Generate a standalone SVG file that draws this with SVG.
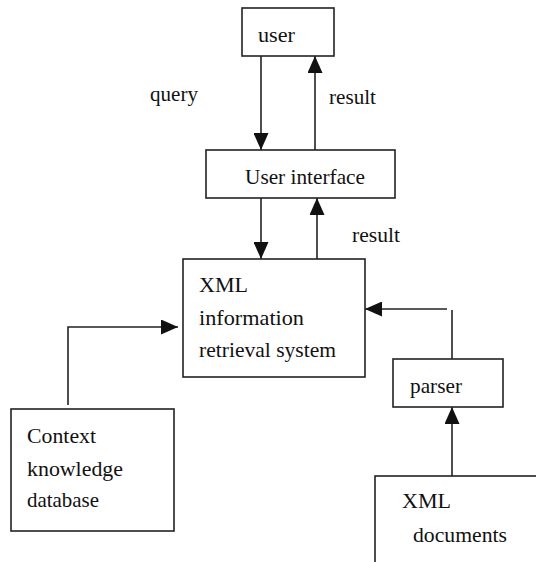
<svg xmlns="http://www.w3.org/2000/svg" width="536" height="562" viewBox="0 0 536 562">
<defs>
<style>
.box{fill:#fff;stroke:#222;stroke-width:1.6}
.ln{fill:none;stroke:#222;stroke-width:1.6}
</style>
<marker id="ah" markerUnits="userSpaceOnUse" markerWidth="17" markerHeight="15" refX="17" refY="7.5" orient="auto" viewBox="0 0 17 15">
<path d="M0,0 L17,7.5 L0,15 z" fill="#111"/>
</marker>
</defs>
<rect width="536" height="562" fill="#fff"/>
<g id="connectors">
<path class="ln" d="M261,56 V150" marker-end="url(#ah)"/>
<path class="ln" d="M315,150 V56" marker-end="url(#ah)"/>
<path class="ln" d="M261,198 V259" marker-end="url(#ah)"/>
<path class="ln" d="M317,259 V198" marker-end="url(#ah)"/>
<path class="ln" d="M68,405 V327 H178" marker-end="url(#ah)"/>
<path class="ln" d="M452,359 V310"/>
<path class="ln" d="M447,309 H365" marker-end="url(#ah)"/>
<path class="ln" d="M452,476 V407" marker-end="url(#ah)"/>
<text font-family="Liberation Serif" font-size="21" fill="#111" x="150" y="101" textLength="48" lengthAdjust="spacingAndGlyphs">query</text>
<text font-family="Liberation Serif" font-size="21" fill="#111" x="329" y="104" textLength="47" lengthAdjust="spacingAndGlyphs">result</text>
<text font-family="Liberation Serif" font-size="21" fill="#111" x="352" y="242" textLength="48" lengthAdjust="spacingAndGlyphs">result</text>
</g>
<g id="user">
<rect class="box" x="242" y="8" width="92" height="48"/>
<text font-family="Liberation Serif" font-size="21" fill="#111" x="258" y="42" textLength="37" lengthAdjust="spacingAndGlyphs">user</text>
</g>
<g id="ui">
<rect class="box" x="206" y="150" width="189" height="48"/>
<text font-family="Liberation Serif" font-size="21" fill="#111" x="245" y="184" textLength="120" lengthAdjust="spacingAndGlyphs">User interface</text>
</g>
<g id="xmlirs">
<rect class="box" x="183" y="259" width="182" height="118"/>
<text font-family="Liberation Serif" font-size="21" fill="#111" x="199" y="292" textLength="49" lengthAdjust="spacingAndGlyphs">XML</text>
<text font-family="Liberation Serif" font-size="21" fill="#111" x="199" y="325" textLength="105" lengthAdjust="spacingAndGlyphs">information</text>
<text font-family="Liberation Serif" font-size="21" fill="#111" x="199" y="357" textLength="137" lengthAdjust="spacingAndGlyphs">retrieval system</text>
</g>
<g id="context">
<rect class="box" x="11" y="409" width="163" height="122"/>
<text font-family="Liberation Serif" font-size="21" fill="#111" x="27" y="443" textLength="69" lengthAdjust="spacingAndGlyphs">Context</text>
<text font-family="Liberation Serif" font-size="21" fill="#111" x="27" y="476" textLength="96" lengthAdjust="spacingAndGlyphs">knowledge</text>
<text font-family="Liberation Serif" font-size="21" fill="#111" x="27" y="507" textLength="72" lengthAdjust="spacingAndGlyphs">database</text>
</g>
<g id="parser">
<rect class="box" x="393" y="359" width="110" height="48"/>
<text font-family="Liberation Serif" font-size="21" fill="#111" x="410" y="393" textLength="52" lengthAdjust="spacingAndGlyphs">parser</text>
</g>
<g id="xmldocs">
<rect class="box" x="375" y="476" width="200" height="120"/>
<text font-family="Liberation Serif" font-size="21" fill="#111" x="402" y="508" textLength="49" lengthAdjust="spacingAndGlyphs">XML</text>
<text font-family="Liberation Serif" font-size="21" fill="#111" x="413" y="542" textLength="94" lengthAdjust="spacingAndGlyphs">documents</text>
</g>
</svg>
